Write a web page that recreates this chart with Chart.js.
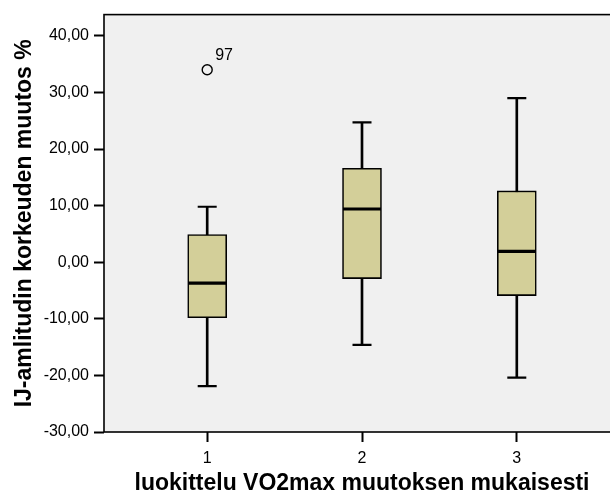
<!DOCTYPE html>
<html>
<head>
<meta charset="utf-8">
<script src="https://cdn.jsdelivr.net/npm/chart.js@4/dist/chart.umd.min.js"></script>
<style>
  html, body { margin: 0; padding: 0; background: #ffffff; overflow: hidden; }
  #wrap { position: relative; width: 622px; height: 497px; }
</style>
</head>
<body>
<div id="wrap"><canvas id="c" width="622" height="497"></canvas></div>
<script>
// Groups (VO2max change class) and box-plot statistics per group
const groups = [1, 2, 3];
const groupLabels = ['1', '2', '3'];
const lowWhisker = [-21.9, -14.6, -20.4];
const lowerQuartile = [-9.8, -2.9, -5.9];
const median = [-3.7, 9.4, 1.9];
const upperQuartile = [4.9, 16.6, 12.6];
const highWhisker = [9.8, 24.7, 29.0];

// Outlying cases
const outlierGroup = [1];
const outlierValue = [34.0];
const outlierCase = ['97'];

// Value axis
const yMin = -30;
const yMax = 43.75;
const yStep = 10;

const boxFill = '#d3cf99';
const plotFill = '#f0f0f0';
const ink = '#000000';

const fmt = v => v.toFixed(2).replace('.', ',');

// Plot background and frame
const framePlugin = {
  id: 'frame',
  beforeDatasetsDraw(chart) {
    const { ctx, chartArea: a } = chart;
    ctx.save();
    ctx.fillStyle = plotFill;
    ctx.fillRect(a.left, a.top, a.right - a.left, a.bottom - a.top);
    ctx.strokeStyle = ink;
    ctx.lineWidth = 1.6;
    ctx.strokeRect(a.left, a.top, a.right - a.left, a.bottom - a.top);
    ctx.restore();
  }
};

// Case number beside each outlier
const caseLabelPlugin = {
  id: 'caseLabels',
  afterDatasetsDraw(chart) {
    const { ctx, scales } = chart;
    ctx.save();
    ctx.fillStyle = ink;
    ctx.font = '16px "Liberation Sans", Arial, sans-serif';
    ctx.textAlign = 'left';
    ctx.textBaseline = 'alphabetic';
    outlierGroup.forEach((g, i) => {
      const px = scales.x.getPixelForValue(g);
      const py = scales.y.getPixelForValue(outlierValue[i]);
      ctx.fillText(outlierCase[i], px + 8, py - 10);
    });
    ctx.restore();
  }
};

const whiskerSpan = groups.map((g, i) => ({ x: g, y: [lowWhisker[i], highWhisker[i]] }));
const boxSpan = groups.map((g, i) => ({ x: g, y: [lowerQuartile[i], upperQuartile[i]] }));
const medianPts = groups.map((g, i) => ({ x: g, y: median[i] }));
const capPts = groups.flatMap((g, i) => [{ x: g, y: lowWhisker[i] }, { x: g, y: highWhisker[i] }]);
const outlierPts = outlierGroup.map((g, i) => ({ x: g, y: outlierValue[i] }));

new Chart(document.getElementById('c'), {
  type: 'bar',
  data: {
    datasets: [
      {
        type: 'bar', label: 'whisker', data: whiskerSpan,
        backgroundColor: ink, barThickness: 2, grouped: false, order: 5
      },
      {
        type: 'bar', label: 'box', data: boxSpan,
        backgroundColor: boxFill, borderColor: ink, borderWidth: 1.6, borderSkipped: false,
        barThickness: 39, grouped: false, order: 4
      },
      {
        type: 'line', label: 'caps', data: capPts, showLine: false,
        pointStyle: 'line', pointRadius: 9.5, pointHoverRadius: 9.5,
        borderColor: ink, pointBorderWidth: 2.2, order: 3
      },
      {
        type: 'line', label: 'median', data: medianPts, showLine: false,
        pointStyle: 'line', pointRadius: 19, pointHoverRadius: 19,
        borderColor: ink, pointBorderWidth: 3.2, order: 2
      },
      {
        type: 'line', label: 'outliers', data: outlierPts, showLine: false,
        pointStyle: 'circle', pointRadius: 5, pointHoverRadius: 5,
        backgroundColor: plotFill, borderColor: ink, pointBorderWidth: 1.4, order: 1
      }
    ]
  },
  options: {
    responsive: false,
    animation: false,
    events: [],
    layout: { autoPadding: false, padding: { top: 12, right: 2, left: 0, bottom: 0 } },
    plugins: { legend: { display: false }, tooltip: { enabled: false } },
    scales: {
      x: {
        type: 'linear',
        offset: false,
        min: groups[0] - 2 / 3,
        max: groups[groups.length - 1] + 2 / 3,
        afterBuildTicks(scale) { scale.ticks = groups.map(v => ({ value: v })); },
        afterFit(scale) { scale.height = 65; },
        grid: { offset: false, drawOnChartArea: false, tickLength: 10, tickWidth: 2, color: ink, tickColor: ink },
        border: { display: false },
        ticks: {
          color: ink, padding: 7, maxRotation: 0,
          font: { family: '"Liberation Sans", Arial, sans-serif', size: 16 },
          callback: (v) => groupLabels[groups.indexOf(v)] ?? ''
        },
        title: {
          display: true, text: 'luokittelu VO2max muutoksen mukaisesti', color: ink,
          font: { family: '"Liberation Sans", Arial, sans-serif', size: 23, weight: 'bold' },
          padding: { top: 6, bottom: 0 }
        }
      },
      y: {
        min: yMin, max: yMax,
        afterFit(scale) { scale.width = 104; },
        grid: { drawOnChartArea: false, tickLength: 10, tickWidth: 2, color: ink, tickColor: ink },
        border: { display: false },
        ticks: {
          stepSize: yStep, includeBounds: false, color: ink, padding: 5,
          font: { family: '"Liberation Sans", Arial, sans-serif', size: 16 },
          callback: (v) => fmt(v)
        },
        title: {
          display: true, text: 'IJ-amlitudin korkeuden muutos %', color: ink,
          font: { family: '"Liberation Sans", Arial, sans-serif', size: 23, weight: 'bold' },
          padding: { top: 11, bottom: 4 }
        }
      }
    }
  },
  plugins: [framePlugin, caseLabelPlugin]
});
</script>
</body>
</html>
